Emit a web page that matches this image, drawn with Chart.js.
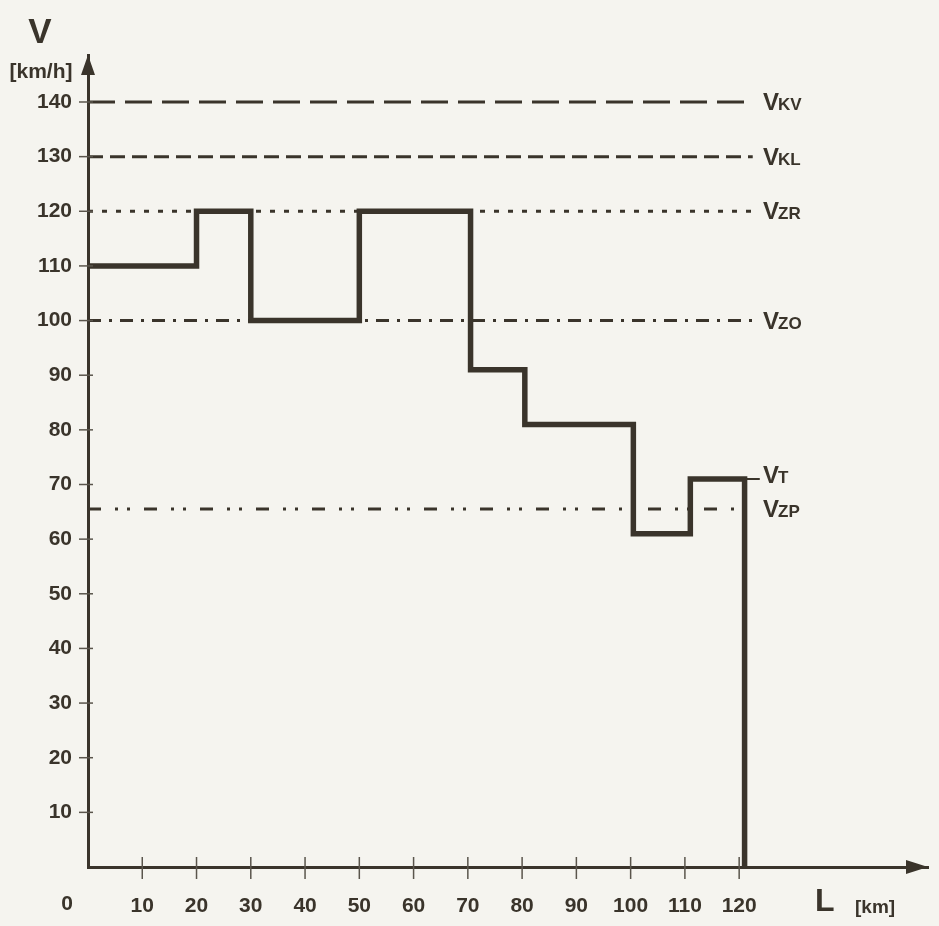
<!DOCTYPE html>
<html>
<head>
<meta charset="utf-8">
<script src="https://cdn.jsdelivr.net/npm/chart.js@4.4.1/dist/chart.umd.min.js"></script>
<style>
html,body{margin:0;padding:0;background:#f5f4ef;}
#wrap{width:939px;height:926px;position:relative;}
</style>
</head>
<body>
<div id="wrap"><canvas id="c"></canvas></div>
<script>
// ---- data ----
const xTicks = [10,20,30,40,50,60,70,80,90,100,110,120];
const yTicks = [10,20,30,40,50,60,70,80,90,100,110,120,130,140];
const stepKm = [0, 20, 30, 50, 70.5, 80.5, 100.5, 111, 121];
const stepSpeed = [110, 120, 100, 120, 91, 81, 61, 71, 0];
const refNames = ['KV','KL','ZR','ZO','ZP'];
const refValues = [140, 130, 120, 100, 65.5];
const refStartKm = 0;
const refEndKm = 122.5;
const vtValue = 71;
const vtStartKm = 111;
const vtEndKm = 123.8;

const INK = '#3a342b';
const FONT = '"Liberation Sans", Arial, sans-serif';
const dashes = {
  KV: [27, 10],
  KL: [15, 7],
  ZR: [5, 9],
  ZO: [13, 8, 3, 8],
  ZP: [13, 14, 3, 9, 3, 14]
};

const datasets = [];
datasets.push({
  label: 'V',
  data: stepKm.map((x, i) => ({x: x, y: stepSpeed[i]})),
  stepped: true,
  borderColor: INK,
  borderWidth: 5.5,
  pointRadius: 0,
  fill: false
});
datasets.push({
  label: 'VT',
  data: [{x: vtStartKm, y: vtValue}, {x: vtEndKm, y: vtValue}],
  borderColor: INK,
  borderWidth: 2,
  pointRadius: 0,
  fill: false
});
refNames.forEach((n, i) => {
  datasets.push({
    label: 'V' + n,
    data: [{x: refStartKm, y: refValues[i]}, {x: refEndKm, y: refValues[i]}],
    borderColor: INK,
    borderWidth: 3,
    borderDash: dashes[n],
    borderCapStyle: 'butt',
    pointRadius: 0,
    fill: false
  });
});

const rightLabels = refNames.map((n, i) => ({sub: n, value: refValues[i], dy: 8}));
rightLabels.push({sub: 'T', value: vtValue, dy: 4});

const decor = {
  id: 'decor',
  beforeDraw(chart) {
    const ctx = chart.ctx;
    ctx.save();
    ctx.fillStyle = '#f5f4ef';
    ctx.fillRect(0, 0, chart.width, chart.height);
    ctx.restore();
  },
  afterDraw(chart) {
    const ctx = chart.ctx;
    const xs = chart.scales.x, ys = chart.scales.y;
    const x0 = xs.getPixelForValue(0);
    const y0 = ys.getPixelForValue(0);
    const ca = chart.chartArea;
    ctx.save();
    // tick marks crossing axes
    ctx.strokeStyle = '#5a554c';
    ctx.lineWidth = 1.5;
    yTicks.forEach(v => {
      const y = ys.getPixelForValue(v);
      ctx.beginPath(); ctx.moveTo(x0 - 9, y); ctx.lineTo(x0 + 5, y); ctx.stroke();
    });
    xTicks.forEach(v => {
      const x = xs.getPixelForValue(v);
      ctx.beginPath(); ctx.moveTo(x, y0 - 10); ctx.lineTo(x, y0 + 12); ctx.stroke();
    });
    // arrows
    ctx.fillStyle = INK;
    ctx.beginPath();
    ctx.moveTo(x0, ca.top);
    ctx.lineTo(x0 - 7, ca.top + 20);
    ctx.lineTo(x0 + 7, ca.top + 20);
    ctx.closePath(); ctx.fill();
    ctx.beginPath();
    ctx.moveTo(ca.right, y0);
    ctx.lineTo(ca.right - 22, y0 - 7);
    ctx.lineTo(ca.right - 22, y0 + 7);
    ctx.closePath(); ctx.fill();
    // axis titles
    ctx.fillStyle = INK;
    ctx.textBaseline = 'alphabetic';
    ctx.textAlign = 'center';
    ctx.font = 'bold 35px ' + FONT;
    ctx.fillText('V', 40, 43);
    ctx.font = 'bold 21px ' + FONT;
    ctx.fillText('[km/h]', 41, 78);
    ctx.textAlign = 'left';
    ctx.font = 'bold 32px ' + FONT;
    ctx.fillText('L', 815, 911);
    ctx.font = 'bold 19px ' + FONT;
    ctx.fillText('[km]', 855, 913);
    // zero label
    ctx.textAlign = 'center';
    ctx.textBaseline = 'top';
    ctx.font = 'bold 21px ' + FONT;
    ctx.fillText('0', x0 - 21, y0 + 27);
    // right labels
    ctx.textAlign = 'left';
    ctx.textBaseline = 'alphabetic';
    rightLabels.forEach(l => {
      const y = ys.getPixelForValue(l.value) + l.dy;
      const x = 763;
      ctx.font = 'bold 24px ' + FONT;
      ctx.fillText('V', x, y);
      const w = ctx.measureText('V').width;
      ctx.font = 'bold 17px ' + FONT;
      ctx.fillText(l.sub, x + w - 1, y);
    });
    ctx.restore();
  }
};

new Chart(document.getElementById('c'), {
  type: 'line',
  data: {datasets: datasets},
  options: {
    responsive: true,
    maintainAspectRatio: false,
    animation: false,
    layout: {padding: {top: 55, right: 11, left: 0, bottom: 0}},
    plugins: {legend: {display: false}, tooltip: {enabled: false}},
    scales: {
      x: {
        type: 'linear',
        min: 0,
        max: 154.8,
        afterFit(s) { s.height = 59; },
        afterBuildTicks(s) { s.ticks = xTicks.map(v => ({value: v})); },
        grid: {display: false, drawTicks: false},
        border: {display: true, color: INK, width: 3},
        ticks: {
          padding: 27,
          color: INK,
          maxRotation: 0,
          autoSkip: false,
          font: {family: FONT, size: 21, weight: 'bold'}
        }
      },
      y: {
        type: 'linear',
        min: 0,
        max: 148.6,
        afterFit(s) { s.width = 88; },
        afterBuildTicks(s) { s.ticks = yTicks.map(v => ({value: v})); },
        grid: {display: false, drawTicks: false},
        border: {display: true, color: INK, width: 3},
        ticks: {
          padding: 16,
          color: INK,
          autoSkip: false,
          font: {family: FONT, size: 21, weight: 'bold'}
        }
      }
    }
  },
  plugins: [decor]
});
</script>
</body>
</html>
